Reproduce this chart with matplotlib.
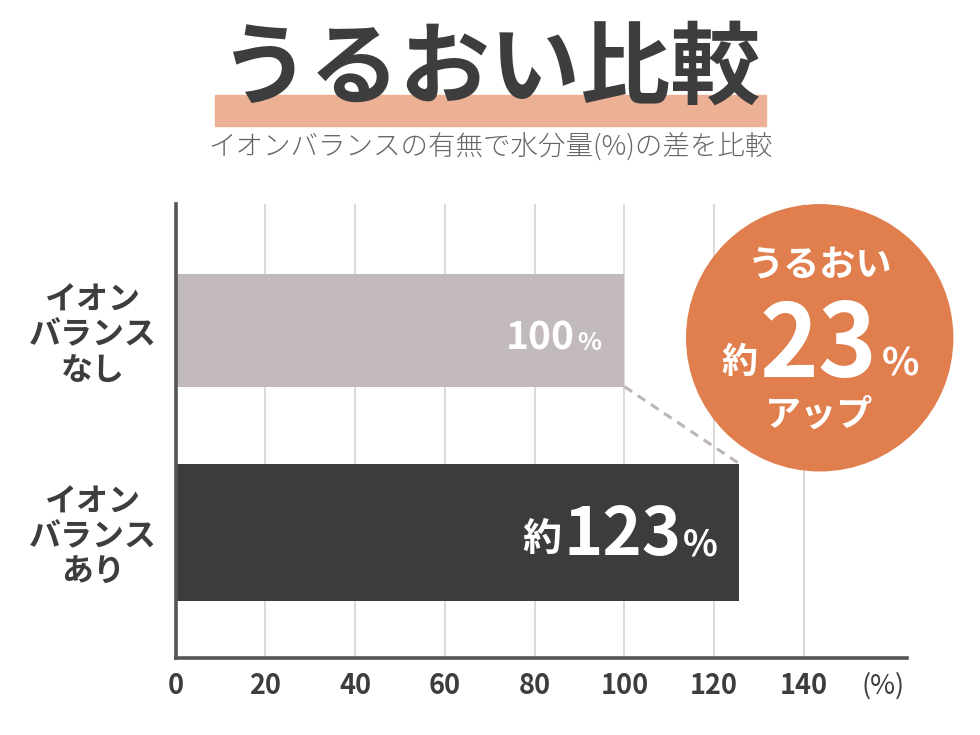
import matplotlib
matplotlib.use("Agg")
import matplotlib.pyplot as plt
from matplotlib.patches import Circle, Rectangle

plt.rcParams['font.family'] = ['Noto Sans CJK JP', 'DejaVu Sans']

# ---- data ----
categories = ["イオン\nバランス\nなし", "イオン\nバランス\nあり"]
values = [100, 125.6]
value_labels = ["100", "123"]
xticks = [0, 20, 40, 60, 80, 100, 120, 140]
title = "うるおい比較"
subtitle = "イオンバランスの有無で水分量(%)の差を比較"
badge_top = "うるおい"
badge_value = "23"
badge_bottom = "アップ"

# ---- style ----
W, H = 980, 735
DARK = "#3d3d3d"
bar_colors = ["#c1b9bd", "#3c3c3c"]
bar_heights = [0.557, 0.679]
CIRCLE = "#e07e4e"
HILITE = "#ecb195"

fig = plt.figure(figsize=(W / 100, H / 100), dpi=100)
fig.patch.set_facecolor("white")

# main axes in pixel layout
left_px, right_px, top_px, bottom_px = 175.5, 907.3, 204, 657.7
ax = fig.add_axes([left_px / W, 1 - bottom_px / H,
                   (right_px - left_px) / W, (bottom_px - top_px) / H])
ax.set_zorder(1)
ypos = [0, 1]
ax.barh(ypos, values, height=bar_heights, color=bar_colors, zorder=2)
ax.set_xlim(0, 163)
ax.set_ylim(1.622, -0.627)
ax.set_xticks(xticks)
ax.set_xticklabels([str(t) for t in xticks])
ax.set_yticks(ypos)
ax.set_yticklabels(categories, ha="center", linespacing=1.12)
ax.tick_params(axis="y", length=0, pad=59.5, labelsize=23, labelcolor=DARK)
ax.tick_params(axis="x", length=0, pad=10, labelsize=19.5, labelcolor=DARK)
for lab in ax.get_yticklabels():
    lab.set_fontweight("bold")
for lab in ax.get_xticklabels():
    lab.set_fontweight("bold")
ax.grid(axis="x", color="#d0d0d0", linewidth=1.1, zorder=0)
ax.set_axisbelow(True)
for s in ["top", "right"]:
    ax.spines[s].set_visible(False)
for s in ["left", "bottom"]:
    ax.spines[s].set_color("#555555")
    ax.spines[s].set_linewidth(2.6)
    ax.spines[s].set_capstyle("projecting")
    ax.spines[s].set_zorder(3)

# dashed connector between bar ends
ax.plot([values[0], values[1]],
        [ypos[0] + bar_heights[0] / 2, ypos[1] - bar_heights[1] / 2],
        color="#bdb5b9", linewidth=2.2, linestyle=(0, (3, 2.2)), zorder=1,
        solid_capstyle="butt")

# bar value labels
ax.annotate(value_labels[0], xy=(values[0], ypos[0]), xytext=(-50, -19.5),
            textcoords="offset pixels", ha="right", va="baseline",
            color="white", fontsize=28, fontweight="bold", zorder=4)
ax.annotate("%", xy=(values[0], ypos[0]), xytext=(-23, -19.5),
            textcoords="offset pixels", ha="right", va="baseline",
            color="white", fontsize=18, fontweight="bold", zorder=4)
ax.annotate(value_labels[1], xy=(values[1], ypos[1]), xytext=(-58, -22.8),
            textcoords="offset pixels", ha="right", va="baseline",
            color="white", fontsize=48, fontweight="bold", zorder=4)
ax.annotate("%", xy=(values[1], ypos[1]), xytext=(-22, -22.8),
            textcoords="offset pixels", ha="right", va="baseline",
            color="white", fontsize=26, fontweight="bold", zorder=4)
ax.annotate("約", xy=(values[1], ypos[1]), xytext=(-178, -19),
            textcoords="offset pixels", ha="right", va="baseline",
            color="white", fontsize=28, fontweight="bold", zorder=4)

# overlay in pixel coordinates
ov = fig.add_axes([0, 0, 1, 1])
ov.set_zorder(2)
ov.patch.set_alpha(0)
ov.set_xlim(0, W)
ov.set_ylim(H, 0)
ov.axis("off")

# title with highlight
ov.add_patch(Rectangle((215, 95), 551, 30.5, color=HILITE, zorder=1))
ov.text(491, 70, title, ha="center", va="center", fontsize=65,
        fontweight="bold", color=DARK, zorder=2)
ov.text(490, 146, subtitle, ha="center", va="center", fontsize=19.8,
        fontweight="light", color="#666666", zorder=2)

# axis unit
ov.text(883, 686, "(%)", ha="center", va="center", fontsize=19.5,
        color=DARK)

# badge
ov.add_patch(Circle((819.7, 337.8), 133, color=CIRCLE, zorder=3))
ov.text(820, 265, badge_top, ha="center", va="center", fontsize=26,
        fontweight="bold", color="white", zorder=4)
ov.text(818, 377, badge_value, ha="center", va="baseline", fontsize=72,
        fontweight="bold", color="white", zorder=4)
ov.text(739, 373, "約", ha="center", va="baseline", fontsize=26,
        fontweight="bold", color="white", zorder=4)
ov.text(900, 375, "%", ha="center", va="baseline", fontsize=28,
        fontweight="bold", color="white", zorder=4)
ov.text(819, 415, badge_bottom, ha="center", va="center", fontsize=26,
        fontweight="bold", color="white", zorder=4)

fig.savefig("out.png", dpi=100, facecolor="white")
